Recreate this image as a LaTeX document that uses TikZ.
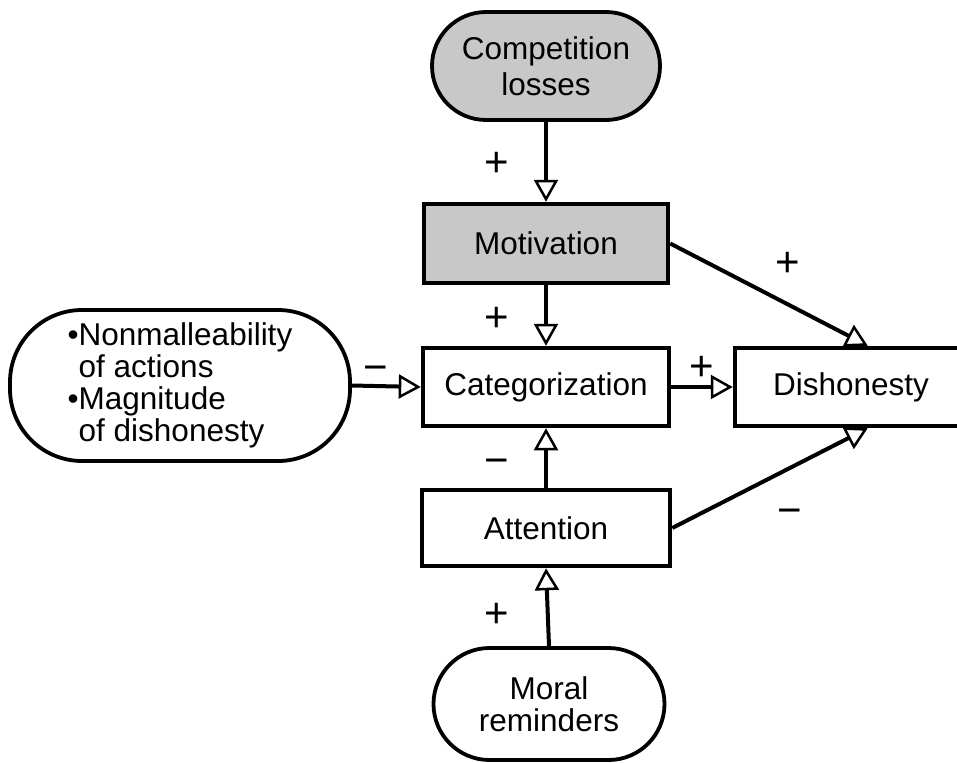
\documentclass[tikz,border=0pt]{standalone}
\usepackage{fontspec}
\setmainfont{Liberation Sans}
\usetikzlibrary{arrows.meta}
\definecolor{boxgray}{RGB}{200,200,200}
\begin{document}
\begin{tikzpicture}[x=1pt,y=-1pt,
  box/.style={draw=black, line width=4.5pt, inner sep=0pt, font=\fontsize{31.5}{32}\selectfont, align=center},
  pill/.style={box, line width=3.8pt},
  conn/.style={line width=4pt, -{Triangle[open, length=22pt, width=24pt, line width=2.5pt]}},
  sign/.style={font=\fontsize{42}{42}\selectfont, inner sep=0pt, anchor=base}
]
\useasboundingbox (0,0) rectangle (957,762);
\node[pill, fill=boxgray, minimum width=228pt, minimum height=108pt, rounded corners=54pt,
  font=\fontsize{31.5}{36}\selectfont] (comp) at (546,66) {Competition\\losses};
\node[box, fill=boxgray, minimum width=244pt, minimum height=79pt] (motiv) at (546,243.5) {Motivation};
\node[box, minimum width=246pt, minimum height=78pt] (categ) at (546,387) {Categorization};
\node[box, minimum width=240pt, minimum height=78pt] (dish) at (855,387) {\hspace{-4pt}Dishonesty\hspace{4pt}};
\node[box, minimum width=248pt, minimum height=76pt] (attn) at (546,528) {Attention};
\node[pill, minimum width=231pt, minimum height=112pt, rounded corners=56pt] (moral) at (549,704) {Moral\\reminders};
\node[pill, minimum width=340pt, minimum height=151pt, rounded corners=72pt, align=left] (left) at (180,385.5)
  {•Nonmalleability\\\phantom{•}of actions\\•Magnitude\\\phantom{•}of dishonesty};
\draw[conn] (comp.south) -- (motiv.north);
\draw[conn] (motiv.south) -- (categ.north);
\draw[conn] (left.east) -- (categ.west);
\draw[conn] (categ.east) -- (dish.west);
\draw[conn] (motiv.east) -- ([xshift=135pt]dish.north west);
\draw[conn] (attn.east) -- ([xshift=135pt]dish.south west);
\draw[conn] (attn.north) -- (categ.south);
\draw[conn] (moral.north) -- (attn.south);
\node[sign] (s1) at (497,176) {+};
\node[sign] (s2) at (497,331) {+};
\node[sign] (s3) at (376,381) {−};
\node[sign] (s4) at (702,380) {+};
\node[sign] (s5) at (788,276) {+};
\node[sign] (s6) at (790,524) {−};
\node[sign] (s7) at (497,474) {−};
\node[sign] (s8) at (497,627) {+};
\end{tikzpicture}
\end{document}
